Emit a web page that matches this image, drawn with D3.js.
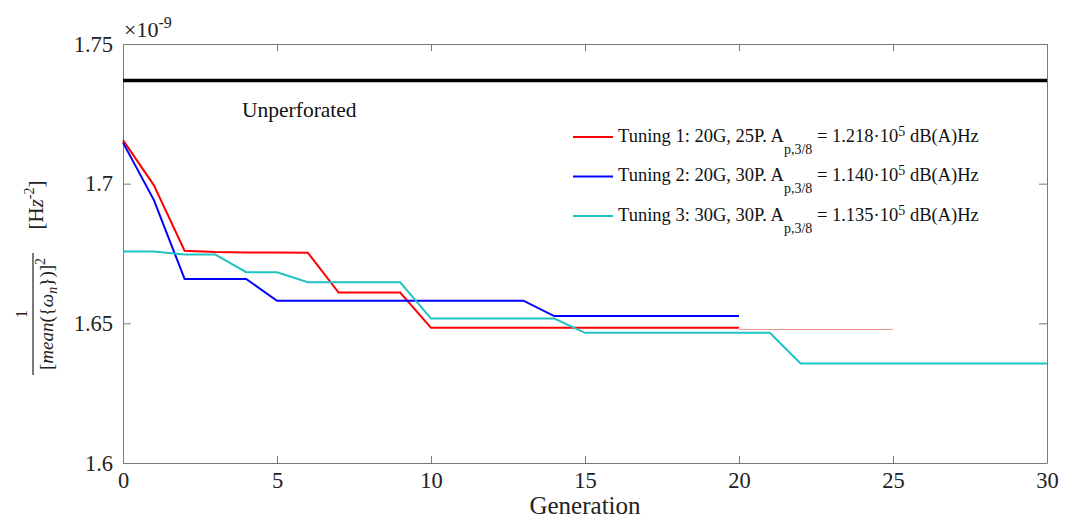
<!DOCTYPE html>
<html>
<head>
<meta charset="utf-8">
<script src="https://cdn.jsdelivr.net/npm/d3@7"></script>
<style>
  html, body { margin: 0; padding: 0; background: #fff; }
  svg { display: block; font-family: "Liberation Serif", "Times New Roman", serif; }
</style>
</head>
<body>
<svg id="chart" width="1065" height="518"></svg>
<script>
// Generations evaluated by each tuning run
const redGenerations = d3.range(0, 21);
const blueGenerations = d3.range(0, 21);
const cyanGenerations = d3.range(0, 31);

// Best fitness per generation, in units of 1e-9 Hz^-2
const redValues = [1.7156, 1.6995, 1.6760, 1.6755, 1.6754, 1.6754, 1.6753, 1.6610, 1.6610, 1.6610,
                   1.6484, 1.6484, 1.6484, 1.6484, 1.6484, 1.6484, 1.6484, 1.6484, 1.6484, 1.6484, 1.6484];
const blueValues = [1.7147, 1.6942, 1.6659, 1.6659, 1.6659, 1.6581, 1.6581, 1.6581, 1.6581, 1.6581,
                    1.6581, 1.6581, 1.6581, 1.6581, 1.6526, 1.6526, 1.6526, 1.6526, 1.6526, 1.6526, 1.6526];
const cyanValues = [1.6757, 1.6757, 1.6746, 1.6746, 1.6683, 1.6683, 1.6647, 1.6647, 1.6647, 1.6647,
                    1.6517, 1.6517, 1.6517, 1.6517, 1.6517, 1.6466, 1.6466, 1.6466, 1.6466, 1.6466,
                    1.6466, 1.6466, 1.6356, 1.6356, 1.6356, 1.6356, 1.6356, 1.6356, 1.6356, 1.6356, 1.6356];

// Faint continuation drawn after generation 20
const tailGenerations = [20, 25];
const tailValues = [1.6478, 1.6478];

// Reference level of the unperforated plate
const unperforatedGenerations = [0, 30];
const unperforatedValues = [1.7369, 1.7369];

// Axis ticks
const xTickValues = [0, 5, 10, 15, 20, 25, 30];
const yTickValues = [1.6, 1.65, 1.7, 1.75];
const yTickLabels = ["1.6", "1.65", "1.7", "1.75"];

// Legend entries
const legendNames = ["Tuning 1: 20G, 25P. A", "Tuning 2: 20G, 30P. A", "Tuning 3: 30G, 30P. A"];
const legendAp = ["1.218", "1.140", "1.135"];
const seriesColors = ["#ff0000", "#0000ff", "#1fc3c3"];

const svg = d3.select("#chart");
const plotLeft = 123, plotRight = 1047, plotTop = 44, plotBottom = 463;

const x = d3.scaleLinear().domain([0, 30]).range([plotLeft, plotRight]);
const y = d3.scaleLinear().domain([1.6, 1.75]).range([plotBottom, plotTop]);

const axisColor = "#7a7a7a";
const tickFont = 22.5;

function styleAxis(g, showLabels) {
  g.select(".domain").attr("stroke", axisColor).attr("stroke-width", 1);
  g.selectAll(".tick line").attr("stroke", axisColor);
  g.selectAll(".tick text")
    .attr("fill", "#222")
    .style("font-size", tickFont + "px")
    .style("font-family", '"Liberation Serif", serif');
  if (!showLabels) g.selectAll(".tick text").remove();
}

// Box with inward ticks on all four sides
svg.append("g").attr("transform", `translate(0,${plotBottom})`)
  .call(d3.axisBottom(x).tickValues(xTickValues).tickSize(-7).tickSizeOuter(0).tickPadding(9))
  .call(g => styleAxis(g, true));
svg.append("g").attr("transform", `translate(0,${plotTop})`)
  .call(d3.axisTop(x).tickValues(xTickValues).tickSize(-7).tickSizeOuter(0))
  .call(g => styleAxis(g, false));
svg.append("g").attr("transform", `translate(${plotLeft},0)`)
  .call(d3.axisLeft(y).tickValues(yTickValues).tickSize(-8).tickSizeOuter(0).tickPadding(10)
    .tickFormat((d, i) => yTickLabels[i]))
  .call(g => styleAxis(g, true));
svg.append("g").attr("transform", `translate(${plotRight},0)`)
  .call(d3.axisRight(y).tickValues(yTickValues).tickSize(-8).tickSizeOuter(0))
  .call(g => styleAxis(g, false));

// Exponent marker
const expo = svg.append("text").attr("x", 124).attr("y", 37)
  .attr("fill", "#222").style("font-size", "22px");
expo.append("tspan").text("×10");
expo.append("tspan").attr("dy", -9).style("font-size", "16px").text("-9");

const line = d3.line().x(d => x(d[0])).y(d => y(d[1]));
const zipPts = (gs, vs) => gs.map((g, i) => [g, vs[i]]);

// Unperforated reference
svg.append("path").datum(zipPts(unperforatedGenerations, unperforatedValues))
  .attr("d", line).attr("fill", "none").attr("stroke", "#000").attr("stroke-width", 3.5);
svg.append("text").attr("x", 242).attr("y", 117).attr("fill", "#111")
  .style("font-size", "21.5px").text("Unperforated");

// Faint tail
svg.append("path").datum(zipPts(tailGenerations, tailValues))
  .attr("d", line).attr("fill", "none").attr("stroke", "#f09090").attr("stroke-width", 1);

// Tuning runs
const series = [
  zipPts(redGenerations, redValues),
  zipPts(blueGenerations, blueValues),
  zipPts(cyanGenerations, cyanValues)
];
series.forEach((pts, i) => {
  svg.append("path").datum(pts).attr("d", line)
    .attr("fill", "none").attr("stroke", seriesColors[i]).attr("stroke-width", 2)
    .attr("stroke-linejoin", "miter");
});

// Legend
const legend = svg.append("g");
legendNames.forEach((name, i) => {
  const ly = 137 + i * 39.5;
  legend.append("line").attr("x1", 573).attr("x2", 613).attr("y1", ly).attr("y2", ly)
    .attr("stroke", seriesColors[i]).attr("stroke-width", 2);
  const t = legend.append("text").attr("x", 618).attr("y", ly + 4.5)
    .attr("fill", "#111").style("font-size", "18.5px");
  t.append("tspan").text(name);
  t.append("tspan").attr("dy", 12).style("font-size", "14px").text("p,3/8");
  t.append("tspan").attr("dy", -12).text(" = " + legendAp[i] + "·10");
  t.append("tspan").attr("dy", -6).style("font-size", "14px").text("5");
  t.append("tspan").attr("dy", 6).text(" dB(A)Hz");
});

// X axis title
svg.append("text").attr("x", x(15)).attr("y", 514).attr("text-anchor", "middle")
  .attr("fill", "#222").style("font-size", "25px").text("Generation");

// Y axis title: rotated fraction 1 / [mean({ω_n})]^2 followed by [Hz^-2]
const yt = svg.append("g").attr("transform", "rotate(-90)");
yt.append("text").attr("x", -314).attr("y", 27).attr("text-anchor", "middle")
  .attr("fill", "#222").style("font-size", "16px").text("1");
yt.append("line").attr("x1", -375).attr("x2", -253).attr("y1", 33).attr("y2", 33)
  .attr("stroke", "#222").attr("stroke-width", 1.2);
const den = yt.append("text").attr("x", -314).attr("y", 53).attr("text-anchor", "middle")
  .attr("fill", "#222").style("font-size", "19px");
den.append("tspan").text("[");
den.append("tspan").style("font-style", "italic").text("mean");
den.append("tspan").text("({");
den.append("tspan").style("font-style", "italic").text("ω");
den.append("tspan").attr("dy", 4).style("font-style", "italic").style("font-size", "14px").text("n");
den.append("tspan").attr("dy", -4).text("})]");
den.append("tspan").attr("dy", -8).style("font-size", "14px").text("2");
const hz = yt.append("text").attr("x", -205).attr("y", 43).attr("text-anchor", "middle")
  .attr("fill", "#222").style("font-size", "21px");
hz.append("tspan").text("[H");
hz.append("tspan").style("font-style", "italic").text("z");
hz.append("tspan").attr("dy", -9).style("font-size", "14px").text("-2");
hz.append("tspan").attr("dy", 9).text("]");
</script>
</body>
</html>
